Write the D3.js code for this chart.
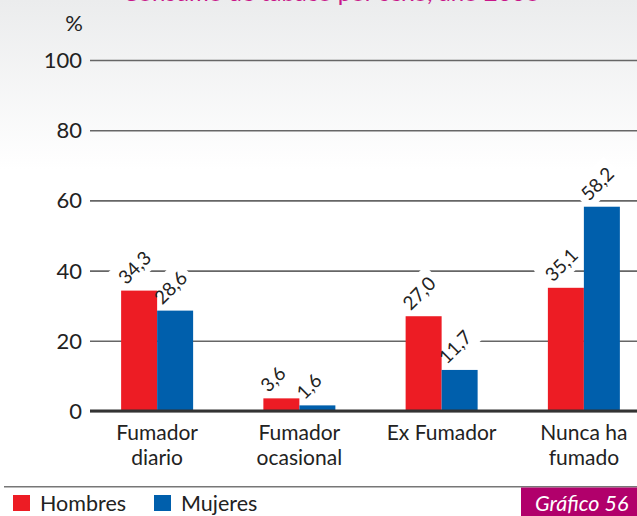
<!DOCTYPE html>
<html>
<head>
<meta charset="utf-8">
<script src="https://cdn.jsdelivr.net/npm/d3@7/dist/d3.min.js"></script>
<style>
  html, body { margin: 0; padding: 0; background: #fff; }
  svg { display: block; }
  text { font-family: Lato, "Open Sans", sans-serif; }
</style>
</head>
<body>
<svg id="chart" width="637" height="516"></svg>
<script>
const categories = ["Fumador diario", "Fumador ocasional", "Ex Fumador", "Nunca ha fumado"];
const categoryLines = [["Fumador", "diario"], ["Fumador", "ocasional"], ["Ex Fumador"], ["Nunca ha", "fumado"]];
const series = ["Hombres", "Mujeres"];
const hombres = [34.3, 3.6, 27.0, 35.1];
const mujeres = [28.6, 1.6, 11.7, 58.2];
const yTicks = [0, 20, 40, 60, 80, 100];
const colors = ["#ed1c24", "#005fac"];
const titleText = "Consumo de tabaco por sexo, año 2006";
const badgeText = "Gráfico 56";

const W = 637, H = 516;
const svg = d3.select("#chart");

// background gradient
const defs = svg.append("defs");
const grad = defs.append("linearGradient").attr("id", "bg").attr("x1", 0).attr("y1", 0).attr("x2", 0).attr("y2", 1);
grad.append("stop").attr("offset", "0%").attr("stop-color", "#ebeced");
grad.append("stop").attr("offset", "100%").attr("stop-color", "#ffffff");
svg.append("rect").attr("x", 0).attr("y", 0).attr("width", W).attr("height", H).attr("fill", "#fff");
svg.append("rect").attr("x", 0).attr("y", 0).attr("width", W).attr("height", 170).attr("fill", "url(#bg)");

// clipped title (only the bottoms of the letters are visible, as in the reference)
svg.append("text").attr("x", 331).attr("y", 0.8).attr("text-anchor", "middle")
  .attr("font-size", 24).attr("fill", "#c8168a").text(titleText);

const y = d3.scaleLinear().domain([0, 100]).range([411, 60]);
const x0 = d3.scaleBand().domain(categories).range([86, 655]).padding(0);
const x1 = d3.scaleBand().domain(series).range([0, 72]);

// grid + axis
const axisG = svg.append("g").attr("transform", "translate(90,0)")
  .call(d3.axisLeft(y).tickValues(yTicks).tickSize(-(W - 90)).tickPadding(8).tickFormat(d3.format("d")));
axisG.select(".domain").remove();
axisG.selectAll(".tick line").attr("stroke", "#666").attr("stroke-width", 1.6);
axisG.selectAll(".tick text").attr("font-size", 22).attr("fill", "#222")
  .attr("font-family", "Lato, sans-serif").attr("dy", "0.34em");

svg.append("text").attr("x", 83).attr("y", 31).attr("text-anchor", "end")
  .attr("font-size", 22).attr("fill", "#222").text("%");

// data rows
const rows = [];
categories.forEach((c, i) => {
  rows.push({ cat: c, s: series[0], v: hombres[i], color: colors[0] });
  rows.push({ cat: c, s: series[1], v: mujeres[i], color: colors[1] });
});
const barX = d => x0(d.cat) + x0.bandwidth() / 2 - 36 + x1(d.s);

const lblLayer = svg.append("g");
const barLayer = svg.append("g");
const txtLayer = svg.append("g");

rows.forEach(d => {
  const lx = barX(d) + 5, ly = y(d.v) - 5;
  const label = d3.format(".1f")(d.v).replace(".", ",");
  const g = txtLayer.append("g").attr("transform", `translate(${lx},${ly}) rotate(-45)`);
  const t = g.append("text").attr("x", 0).attr("y", 0).attr("font-size", 19).attr("fill", "#222").text(label);
  const bb = t.node().getBBox();
  lblLayer.append("g").attr("transform", `translate(${lx},${ly}) rotate(-45)`)
    .append("rect").attr("x", bb.x - 5).attr("y", bb.y - 3).attr("width", bb.width + 10).attr("height", bb.height + 6)
    .attr("fill", "#fff");
});

barLayer.selectAll("rect").data(rows).enter().append("rect")
  .attr("x", barX).attr("width", x1.bandwidth())
  .attr("y", d => y(d.v)).attr("height", d => y(0) - y(d.v))
  .attr("fill", d => d.color);

// zero line
svg.append("line").attr("x1", 90).attr("x2", W).attr("y1", y(0)).attr("y2", y(0))
  .attr("stroke", "#333").attr("stroke-width", 3);

// category labels
categories.forEach((c, i) => {
  const cx = x0(c) + x0.bandwidth() / 2;
  categoryLines[i].forEach((ln, j) => {
    svg.append("text").attr("x", cx).attr("y", 440 + j * 25).attr("text-anchor", "middle")
      .attr("font-size", 21).attr("fill", "#222").text(ln);
  });
});

// separator
svg.append("line").attr("x1", 4).attr("x2", W).attr("y1", 486.7).attr("y2", 486.7)
  .attr("stroke", "#777").attr("stroke-width", 1.5);

// legend
const legX = [13, 154];
series.forEach((s, i) => {
  svg.append("rect").attr("x", legX[i]).attr("y", 495).attr("width", 17).attr("height", 16).attr("fill", colors[i]);
  svg.append("text").attr("x", legX[i] + 27).attr("y", 511).attr("font-size", 21.5).attr("fill", "#222").text(s);
});

// badge
svg.append("rect").attr("x", 521).attr("y", 487.5).attr("width", W - 521).attr("height", H - 487.5).attr("fill", "#b1006b");
svg.append("text").attr("x", 535).attr("y", 511).attr("font-size", 21.5).attr("font-style", "italic")
  .attr("fill", "#fff").text(badgeText);
</script>
</body>
</html>
